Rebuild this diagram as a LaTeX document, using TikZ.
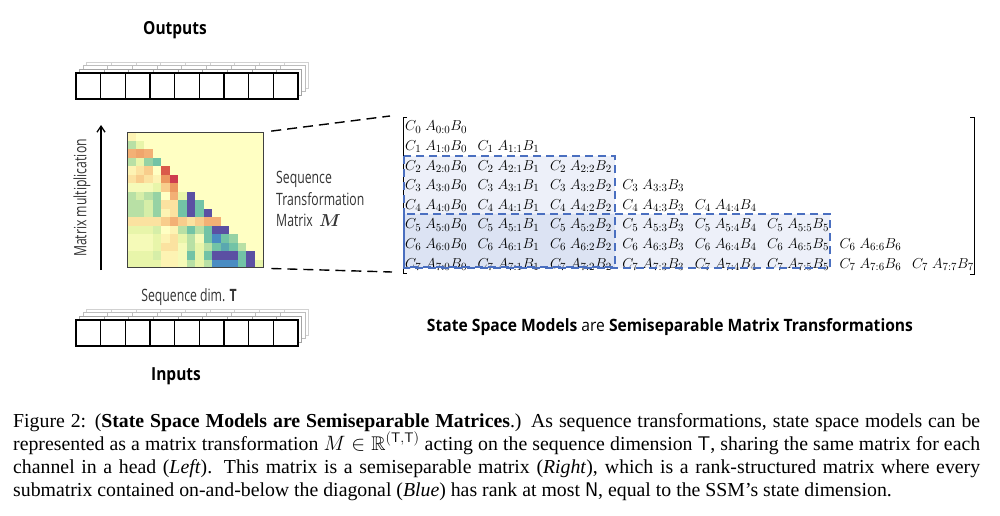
\documentclass[tikz,border=0pt]{standalone}
\usepackage{fontspec}
\usepackage{amsmath,amssymb}
\setmainfont{Liberation Serif}
\newfontfamily\condfont[FakeStretch=0.72]{Open Sans}
\newfontfamily\boldcond[FakeStretch=0.86]{Open Sans}
\newfontfamily\titlefont[FakeStretch=0.92]{Open Sans}
\usetikzlibrary{arrows.meta}
\definecolor{hmP}{HTML}{5B50A3}
\definecolor{hmB}{HTML}{4A8CC2}
\definecolor{hmC}{HTML}{5AA8B0}
\definecolor{hmT}{HTML}{72C3A6}
\definecolor{hmH}{HTML}{96D2A4}
\definecolor{hmG}{HTML}{B8E0A5}
\definecolor{hmL}{HTML}{D6EEA8}
\definecolor{hmM}{HTML}{E8F5AA}
\definecolor{hmY}{HTML}{F5FAB8}
\definecolor{hmW}{HTML}{FFFFC3}
\definecolor{hmQ}{HTML}{FDF3B3}
\definecolor{hmO}{HTML}{FBE2A0}
\definecolor{hmN}{HTML}{F8CD8C}
\definecolor{hmK}{HTML}{F3B075}
\definecolor{hmJ}{HTML}{EFA56C}
\definecolor{hmE}{HTML}{EC9860}
\definecolor{hmR}{HTML}{DA5A4A}
\definecolor{hmD}{HTML}{CE3D4F}
\definecolor{boxblue}{HTML}{4A6FC0}
\definecolor{labelgray}{HTML}{333333}
\newcommand\seqstack[2]{%
  \foreach \k/\col in {3/black!18,2/black!26,1/black!36}{
    \draw[\col, line width=1pt, fill=white] (#1+3.6*\k, #2-3.6*\k) rectangle ++(222,26);
    \foreach \m in {1,...,8} \draw[\col, line width=1pt] (#1+3.6*\k+24.67*\m, #2-3.6*\k) -- ++(0,26);
  }
  \draw[black, line width=1.6pt, fill=white] (#1,#2) rectangle ++(222,26);
  \foreach \m in {1,...,8} \draw[black, line width=1.6pt] (#1+24.67*\m,#2) -- ++(0,26);
}
\begin{document}
\begin{tikzpicture}[x=1pt,y=-1pt,
  heading/.style={font=\boldcond\bfseries\fontsize{18}{20}\selectfont, text=black, inner sep=0pt},
  lightlabel/.style={font=\condfont\fontsize{17}{21.5}\selectfont, text=labelgray, inner sep=0pt},
  entry/.style={anchor=west, inner sep=0pt, font=\fontsize{15}{16}\selectfont},
  dashline/.style={line width=1.4pt, dash pattern=on 10pt off 6pt},
  boxfill/.style={fill=boxblue, fill opacity=0.1},
  boxline/.style={draw=boxblue, line width=1.6pt, dash pattern=on 8pt off 5pt}]
\useasboundingbox (0,0) rectangle (1000,516);
% headings
\node[heading] (outputs) at (175,30) {Outputs};
\node[heading] (inputs) at (176,376) {Inputs};
% stacks
\seqstack{76}{73}
\seqstack{76}{320}
% arrow
\coordinate (arrS) at (101,270);
\coordinate (arrE) at (101,125);
\draw[line width=1.3pt, -{Straight Barb[length=6pt,width=8pt]}] (arrS) -- (arrE);
\node[lightlabel, rotate=90] (mmlabel) at (82,198) {Matrix multiplication};
% heatmap
\fill[hmW] (127,132) rectangle (263,267);
\foreach \row [count=\i from 0] in {{Q},{G,M},{K,J,K},{G,M,H,T},{Q,O,N,W,R},{O,N,O,Q,E,D},{Y,Y,Y,M,N,E},{G,L,G,H,W,K,M,P},{G,G,L,H,O,O,T,P,T},{G,G,L,H,Q,O,T,P,T,P},{O,O,O,O,N,K,N,O,N,K,K},{M,M,M,L,W,Q,G,T,G,T,P,P},{Y,Y,Y,M,Q,O,M,G,Y,T,B,T,H},{Y,Y,Y,M,O,O,Y,G,M,G,T,C,T,G},{M,M,M,L,Q,Q,Y,T,M,T,P,P,P,T,P},{M,M,M,M,Q,Q,Y,G,M,G,B,B,B,T,P,M}}{
  \foreach \c [count=\j from 0] in \row {
    \fill[hm\c] (127+8.5*\j, 132+8.5*\i) rectangle ++(8.5,8.5);
  }
}
\node[draw=black!75, line width=1.3pt, minimum width=136pt, minimum height=135pt, inner sep=0pt, anchor=north west] (hm) at (127,132) {};
\node[lightlabel, anchor=west, align=left] (stm) at (276,199) {Sequence\\Transformation\\Matrix \ $\boldsymbol{M}$};
\node[lightlabel] (seqdim) at (189,297) {Sequence dim. \textbf{T}};
% dashed zoom lines
\coordinate (mtl) at (390,116);
\coordinate (mbl) at (392,272);
\draw[dashline, shorten <=7pt] (hm.north east) -- (mtl);
\draw[dashline, shorten <=7pt] (hm.south east) -- (mbl);
% matrix
\fill[boxfill] (404,156) rectangle (615,267);
\fill[boxfill] (404,214) rectangle (830,268);
\foreach \i in {0,...,7}{
  \foreach \j in {0,...,\i}{
    \node[entry] (e\i\j) at (405+72.4*\j, 127+19.6*\i) {$C_{\i}\;A_{\i:\j}B_{\j}$};
  }
}
\draw[line width=0.9pt] (407,117) -- (403,117) -- (403,273) -- (407,273);
\draw[line width=0.9pt] (970,117) -- (974,117) -- (974,274) -- (970,274);
\draw[boxline] (404,156) rectangle (615,267);
\draw[boxline] (404,214) rectangle (830,268);
\node[font=\titlefont\fontsize{17}{20}\selectfont, inner sep=0pt] (title) at (670,327) {\textbf{State Space Models} are \textbf{Semiseparable Matrix Transformations}};
% caption
\node[anchor=north west, text width=967pt, align=justify, inner sep=0pt, font=\fontsize{19.8}{23}\selectfont] (cap) at (13,413) {\tolerance=10000 Figure 2: (\textbf{State Space Models are Semiseparable Matrices}.) As sequence transformations, state space models can be\linebreak represented as a matrix transformation $M\in\mathbb{R}^{(\mathsf{T},\mathsf{T})}$ acting on the sequence dimension \textsf{T}, sharing the same matrix for each\linebreak channel in a head (\textit{Left}). This matrix is a semiseparable matrix (\textit{Right}), which is a rank-structured matrix where every\linebreak submatrix contained on-and-below the diagonal (\textit{Blue}) has rank at most \textsf{N}, equal to the SSM’s state dimension.};
\end{tikzpicture}
\end{document}
